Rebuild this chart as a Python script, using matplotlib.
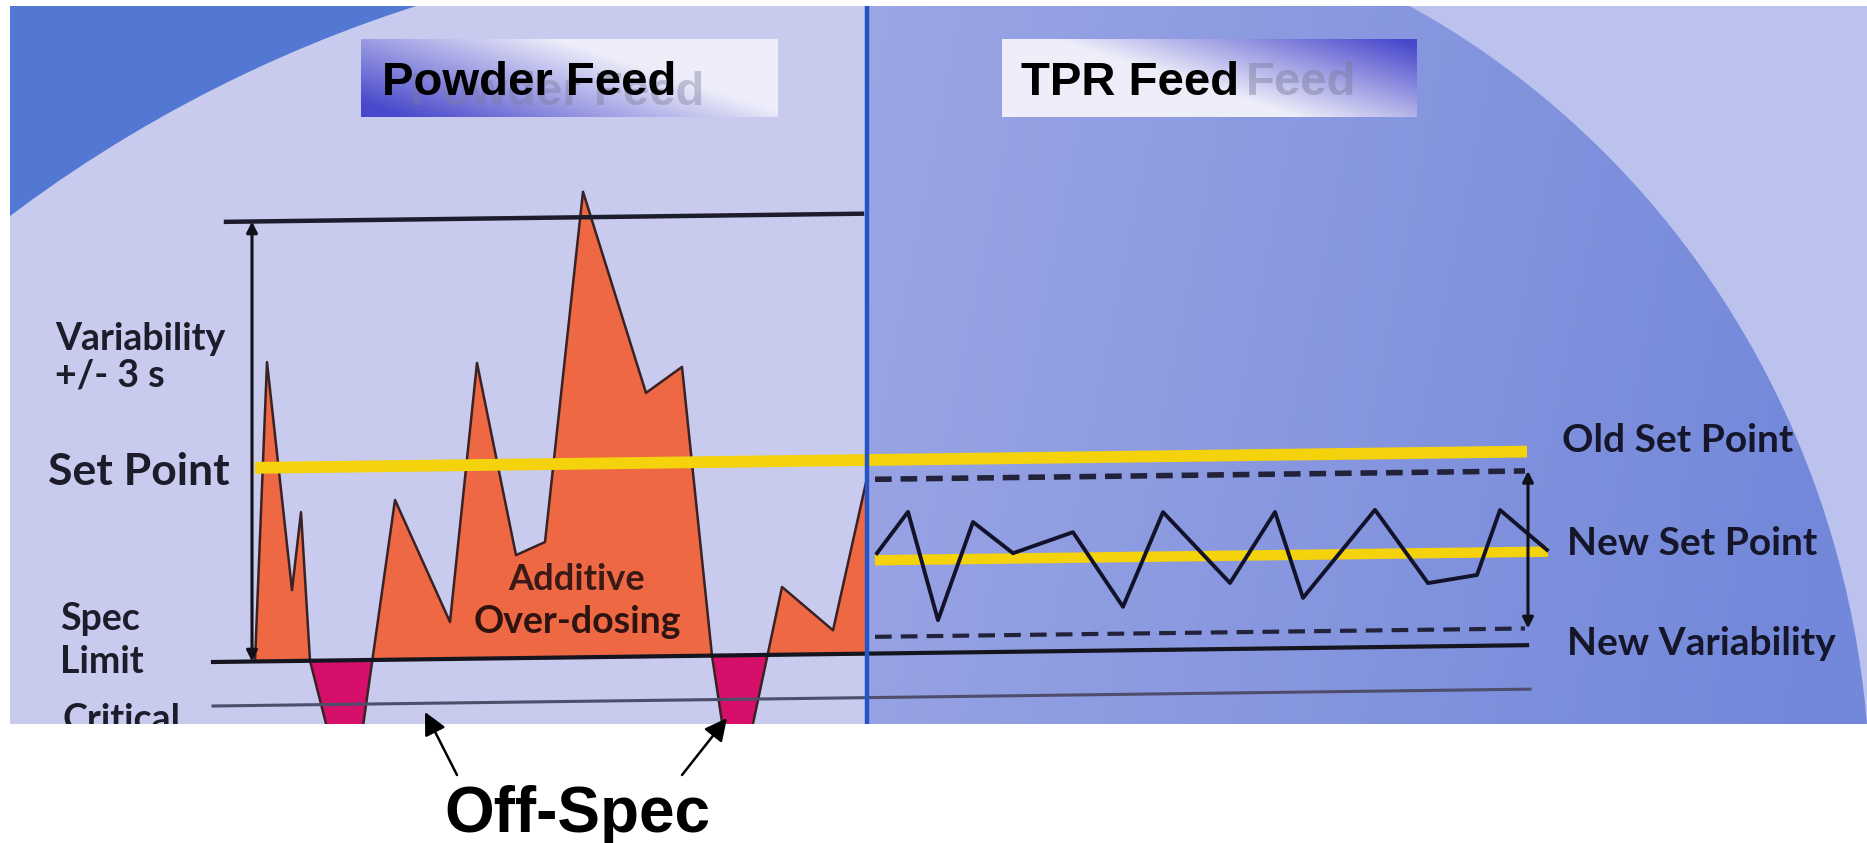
import numpy as np
import matplotlib
matplotlib.use("Agg")
import matplotlib.pyplot as plt
from matplotlib.patches import Rectangle, Circle, Ellipse, FancyArrowPatch
from matplotlib.transforms import Affine2D
from matplotlib.colors import to_rgb

# ---------------- data ----------------
# time axis (arbitrary units) and deviation above the spec limit
# (spec limit = 0, upper +/-3s limit of the powder feed = 100)
powder_t = [24.5, 25.7, 28.2, 29.1, 30.0, 34.0, 38.5, 44.0, 46.7, 50.6,
            53.5, 57.3, 63.6, 67.2, 70.2, 72.5, 77.2, 82.3, 85.7]
powder_v = [0.0, 68.0, 16.1, 33.8, 0.0, -35.9, 36.3, 8.4, 67.2, 23.4,
            26.3, 105.8, 59.9, 65.7, 0.0, -34.8, 15.4, 5.4, 39.9]
tpr_t = [86.7, 89.8, 92.8, 96.3, 100.3, 106.3, 111.3, 115.3, 122.0,
         126.5, 129.3, 136.5, 141.8, 146.7, 149.0, 151.7, 153.7]
tpr_v = [22.8, 32.1, 7.4, 29.6, 22.4, 27.0, 9.9, 31.3, 15.0,
         31.0, 11.4, 31.2, 14.4, 16.1, 30.8, 25.5, 21.6]

spec_limit = 0.0
critical_level = -10.0
upper_3s = 100.0
old_set_point = 44.0
new_set_point = 21.2
new_var_hi = 39.6
new_var_lo = 3.8
switch_t = 85.7

panel_titles = ["Powder Feed", "TPR Feed"]
left_labels = ["Variability", "+/- 3 s", "Set Point", "Spec", "Limit", "Critical"]
right_labels = ["Old Set Point", "New Set Point", "New Variability"]
area_label = ["Additive", "Over-dosing"]
bottom_label = "Off-Spec"

# ---------------- figure ----------------
W, H = 1867, 843
fig = plt.figure(figsize=(W / 100, H / 100), dpi=100)
fig.patch.set_facecolor("white")

PX0, PX1, PY0, PY1 = 10, 1867, 6, 724  # photo area (pixels)

# background axes in pixel coordinates
bg = fig.add_axes([0, 0, 1, 1], zorder=0)
bg.set_xlim(0, W); bg.set_ylim(H, 0); bg.axis("off")

light = "#c8caee"
photo = Rectangle((PX0, PY0), PX1 - PX0, PY1 - PY0, transform=bg.transData)
bg.add_patch(Rectangle((PX0, PY0), PX1 - PX0, PY1 - PY0, color=light, lw=0, zorder=1))
bg.add_patch(Rectangle((PX0, PY0), 880, 450, color="#5278d4", lw=0, zorder=1.1))
circ = Circle((833, 1310), 1369, color=light, lw=0, zorder=1.2)
bg.add_patch(circ)
circ.set_clip_path(photo)
bg.add_patch(Rectangle((867, PY0), PX1 - 867, PY1 - PY0, color="#bcc2ee", lw=0, zorder=1.3))

# blue ellipse with gradient on the TPR side
gh, gw = 100, 200
u = np.linspace(0, 1, gw)[None, :]
w = np.linspace(0, 1, gh)[:, None]
s = np.clip(0.1 + 0.85 * u + 0.12 * w, 0, 1)[..., None]
c0 = np.array(to_rgb("#a0a9e6")); c1 = np.array(to_rgb("#7388da"))
grad = c0 * (1 - s) + c1 * s
im = bg.imshow(grad, extent=(867, PX1, PY1, PY0), aspect="auto",
               interpolation="bilinear", zorder=1.4)
ell = Ellipse((1000, 800), 1740, 1800, transform=bg.transData)
im.set_clip_path(ell)
bg.set_xlim(0, W); bg.set_ylim(H, 0)

# ---------------- chart axes ----------------
ax = fig.add_axes([PX0 / W, (H - PY1) / H, (PX1 - PX0) / W, (PY1 - PY0) / H], zorder=1)
ax.set_xlim(0, 185.7)
ax.set_ylim(-14.09, 149.09)
ax.axis("off")
ax.patch.set_alpha(0)

k = 0.0128  # slight tilt of the scanned drawing
T = ax.transData + Affine2D().skew(0, np.arctan(k)).translate(0, -k * 213)

pt = np.array(powder_t); pv = np.array(powder_v)
f1 = ax.fill_between(pt, pv, spec_limit, where=pv >= spec_limit, interpolate=True,
                     color="#ef6844", lw=0, zorder=2)
f2 = ax.fill_between(pt, pv, spec_limit, where=pv <= spec_limit, interpolate=True,
                     color="#d6106a", lw=0, zorder=2)
f1.set_transform(T); f2.set_transform(T)
ax.plot(pt, pv, color="#3a2224", lw=1.8, transform=T, zorder=3)

# reference lines
ax.plot([21.6, switch_t - 0.5], [upper_3s, upper_3s], color="#1c1c2c", lw=3.2, transform=T, zorder=4)
ax.plot([20.3, 151.7], [spec_limit, spec_limit], color="#15151f", lw=3.0, transform=T, zorder=4)
ax.plot([20.3, 152.0], [critical_level, critical_level], color="#4e4e6c", lw=2.2, transform=T, zorder=4)
ax.plot([24.5, 151.7], [old_set_point, old_set_point], color="#f4d20c", lw=8.5, transform=T,
        zorder=5, solid_capstyle="butt")
ax.plot([86.5, 153.8], [new_set_point, new_set_point], color="#f4d20c", lw=7.5, transform=T,
        zorder=5, solid_capstyle="butt")
ax.plot([86.5, 151.5], [new_var_hi, new_var_hi], color="#22223a", lw=4.0, ls=(0, (3, 1.6)),
        transform=T, zorder=4)
ax.plot([86.5, 151.5], [new_var_lo, new_var_lo], color="#22223a", lw=3.0, ls=(0, (4, 2.2)),
        transform=T, zorder=4)
ax.plot(tpr_t, tpr_v, color="#12122a", lw=2.8, transform=T, zorder=6)

# variability arrows
for (x, y0, y1) in [(24.2, upper_3s, spec_limit), (151.8, new_var_hi, new_var_lo)]:
    ar = FancyArrowPatch((x, y0), (x, y1), arrowstyle="<|-|>", mutation_scale=16,
                         color="#111118", lw=2.2, shrinkA=0, shrinkB=0, transform=T, zorder=6)
    ax.add_patch(ar)

ax.axvline(switch_t, color="#2455c8", lw=3.2, zorder=7)

# labels inside the picture
lab_font = ["Lato", "DejaVu Sans"]
txtc = "#1c1c2a"
ax.text(4.5, 71.4, left_labels[0], transform=T, fontsize=27, family=lab_font, weight="bold",
        color=txtc, va="baseline", zorder=8)
ax.text(4.5, 63.0, left_labels[1], transform=T, fontsize=27, family=lab_font, weight="bold",
        color=txtc, va="baseline", zorder=8)
ax.text(3.8, 40.7, left_labels[2], transform=T, fontsize=32, family=lab_font, weight="bold",
        color=txtc, va="baseline", zorder=8)
ax.text(5.0, 7.7, left_labels[3], transform=T, fontsize=27, family=lab_font, weight="bold",
        color=txtc, va="baseline", zorder=8)
ax.text(5.0, -2.0, left_labels[4], transform=T, fontsize=27, family=lab_font, weight="bold",
        color=txtc, va="baseline", zorder=8)
ax.text(5.2, -15.3, left_labels[5], transform=T, fontsize=27, family=lab_font, weight="bold",
        color=txtc, va="baseline", zorder=8, clip_on=True)
ax.text(56.7, 15.3, area_label[0], transform=T, fontsize=26, family=lab_font, weight="bold",
        color="#3a1a16", va="baseline", ha="center", zorder=8)
ax.text(56.7, 5.5, area_label[1], transform=T, fontsize=27, family=lab_font, weight="bold",
        color="#2e1410", va="baseline", ha="center", zorder=8)
for (x, y, s_) in [(155.2, 43.8, right_labels[0]), (155.7, 20.4, right_labels[1]),
                   (155.7, -2.4, right_labels[2])]:
    ax.text(x, y, s_, transform=T, fontsize=28, family=lab_font, weight="bold",
            color="#16162a", va="baseline", zorder=8)

# ---------------- overlay (titles, Off-Spec) ----------------
ov = fig.add_axes([0, 0, 1, 1], zorder=2)
ov.set_xlim(0, W); ov.set_ylim(H, 0); ov.axis("off"); ov.patch.set_alpha(0)

bh, bw = 60, 200
uu = np.linspace(0, 1, bw)[None, :]
ww = np.linspace(0, 1, bh)[:, None]
dark = np.array(to_rgb("#4848cc")); lite = np.array(to_rgb("#eeeefa"))
s1 = np.clip(1.05 * uu + 0.6 * (1 - ww) - 0.1, 0, 1)[..., None]
s2 = np.clip(1.2 * (1 - uu) + 0.7 * ww - 0.05, 0, 1)[..., None]
ov.imshow(dark * (1 - s1) + lite * s1, extent=(361, 778, 117, 39), aspect="auto",
          interpolation="bilinear", zorder=1)
ov.imshow(dark * (1 - s2) + lite * s2, extent=(1002, 1417, 117, 39), aspect="auto",
          interpolation="bilinear", zorder=1)
ov.set_xlim(0, W); ov.set_ylim(H, 0)

tfont = ["Liberation Sans", "DejaVu Sans"]
# faint "ghost" lettering visible behind the titles in the original
ov.text(410, 105, panel_titles[0], fontsize=34, family=tfont, weight="bold",
        color="#7a7a9a", alpha=0.4, va="baseline", zorder=2)
ov.text(382, 95, panel_titles[0], fontsize=34, family=tfont, weight="bold",
        color="black", va="baseline", zorder=3)
ov.text(1246, 95, "Feed", fontsize=34, family=tfont, weight="bold",
        color="#7a7a9a", alpha=0.45, va="baseline", zorder=2)
ov.text(1021, 95, panel_titles[1], fontsize=34, family=tfont, weight="bold",
        color="black", va="baseline", zorder=3)

ov.text(577, 832, bottom_label, fontsize=46, family=tfont, weight="bold",
        color="black", va="baseline", ha="center", zorder=3)
for (a, b) in [((457, 775), (425, 712)), ((682, 775), (727, 718))]:
    ov.add_patch(FancyArrowPatch(a, b, arrowstyle="-|>", mutation_scale=34, color="black",
                                 lw=1.8, shrinkA=0, shrinkB=0, zorder=3))

fig.savefig("out.png", dpi=100)
